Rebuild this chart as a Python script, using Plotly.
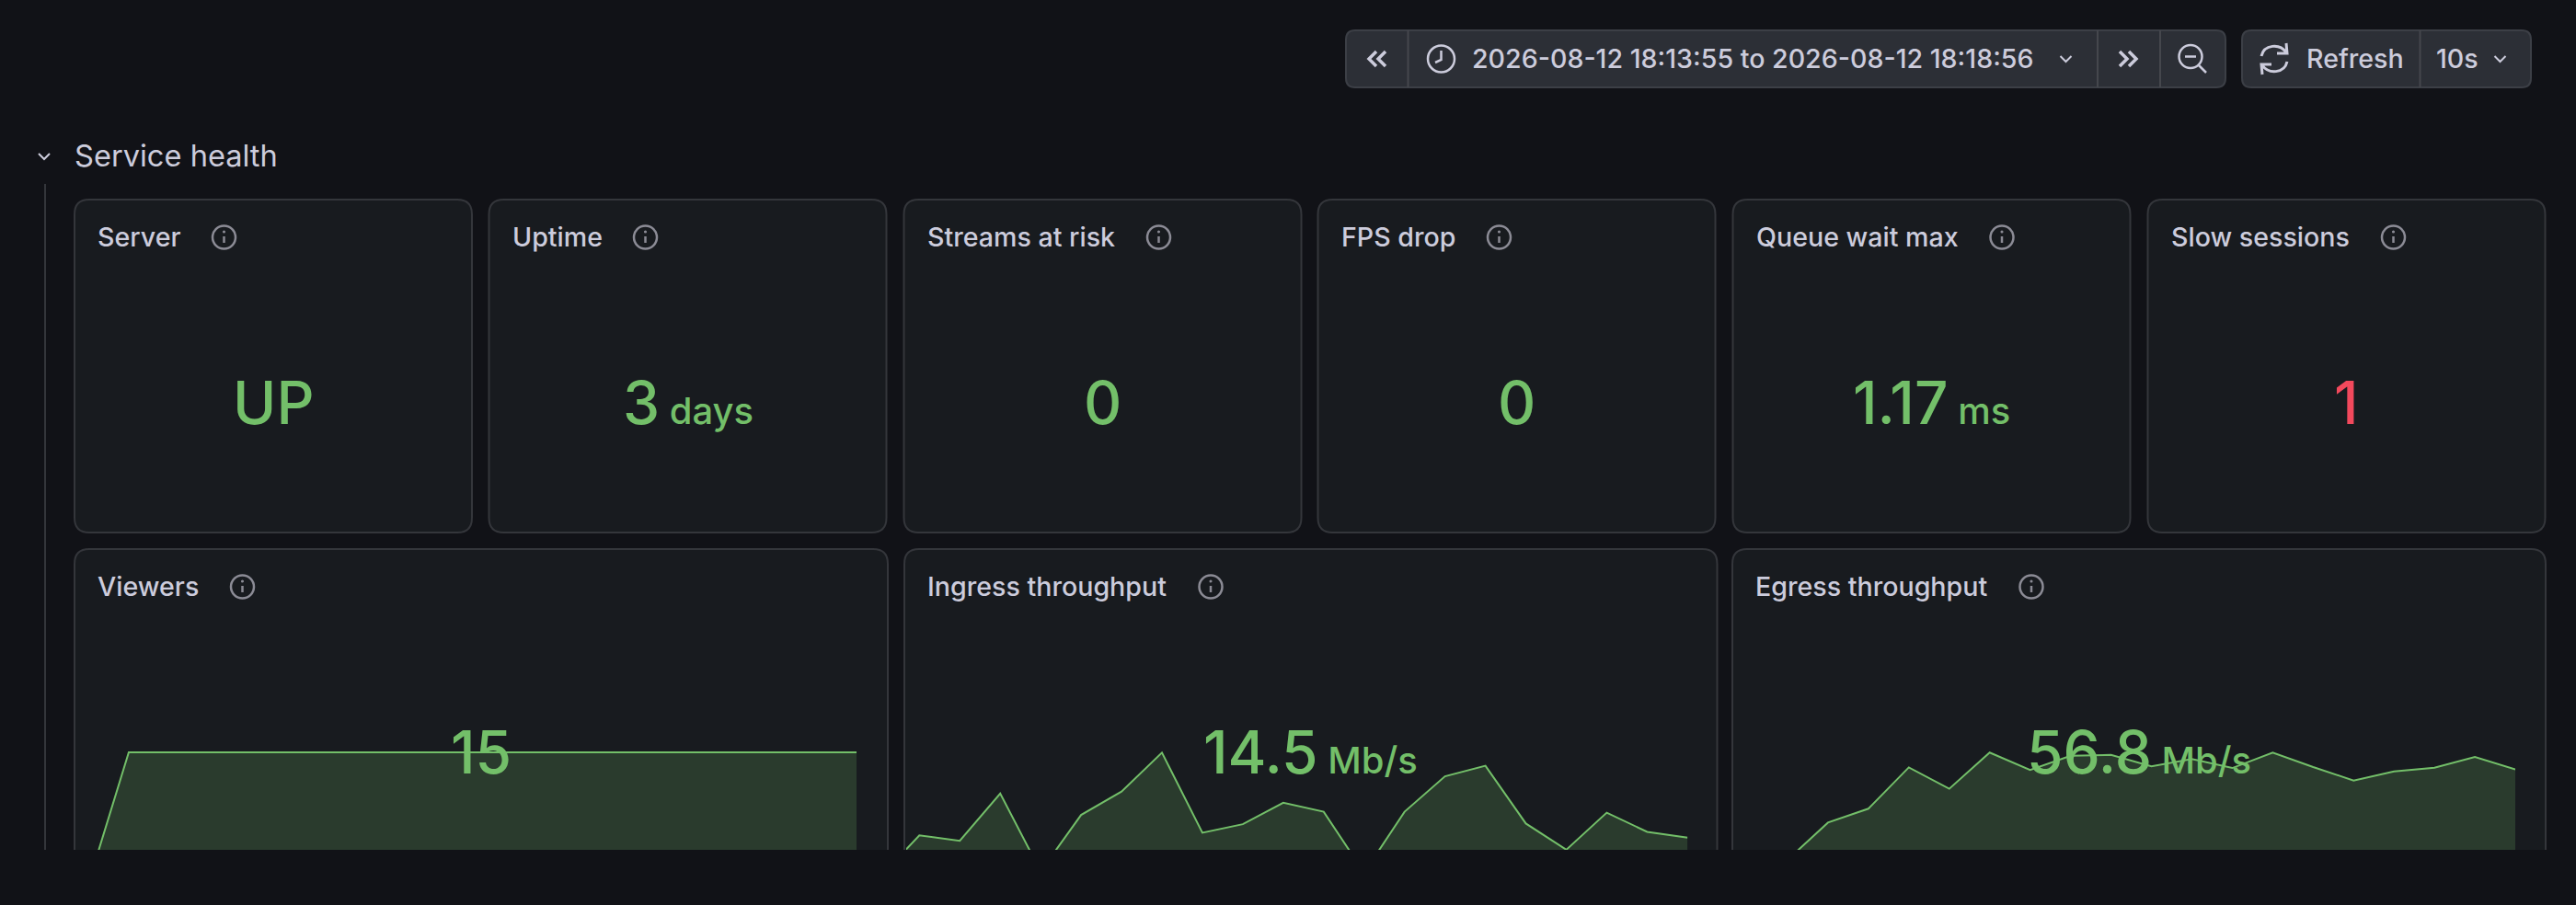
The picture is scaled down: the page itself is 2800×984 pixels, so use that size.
#!/usr/bin/env python
# coding: utf-8

import plotly.graph_objects as go

# Page size
W = 2800
H = 984

BG = "#111217"
PANEL = "#181b1f"
BORDER = "#34363b"
TEXT = "#ccccdc"
GREEN = "#73bf69"
RED = "#f2495c"
GREEN_FILL = "rgba(115,191,105,0.2)"
BTN = "#2c2f36"
BTN_BORDER = "#3c3f46"
ICON = "#8b8b95"

## Data
time_range = "2026-08-12 18:13:55 to 2026-08-12 18:18:56"
refresh_rate = "10s"
section = "Service health"

stat_titles = ["Server", "Uptime", "Streams at risk", "FPS drop", "Queue wait max", "Slow sessions"]
stat_values = ["UP", "3", "0", "0", "1.17", "1"]
stat_units = ["", "days", "", "", "ms", ""]
stat_colors = [GREEN, GREEN, GREEN, GREEN, GREEN, RED]

chart_titles = ["Viewers", "Ingress throughput", "Egress throughput"]
chart_values = ["15", "14.5", "56.8"]
chart_units = ["", "Mb/s", "Mb/s"]

# seconds since the start of the range
seconds = [0, 15, 30, 45, 60, 75, 90, 105, 120, 135, 150, 165, 180, 195, 210, 225, 240, 255, 270, 285]
ingress_seconds = [-15] + seconds

viewers = [0, 15, 15, 15, 15, 15, 15, 15, 15, 15, 15, 15, 15, 15, 15, 15, 15, 15, 15, 15]
ingress = [1.7, 15.2, 13.5, 28.3, 3.9, 21.6, 28.9, 41.1, 16.0, 18.7, 25.4, 22.6, 3.5, 22.6,
           33.7, 37.0, 18.9, 10.7, 22.3, 16.3, 14.5]
egress = [0, 11.9, 30.4, 37.3, 57.8, 47.2, 65.2, 56.5, 63.6, 64.0, 58.3, 62.0, 57.5, 65.2,
          58.0, 51.3, 55.8, 57.7, 63.0, 56.8]

## Layout positions, in page pixels
stat_left = [81, 531.5, 982.5, 1432.5, 1883.5, 2334.5]
stat_w = 432
stat_top = 217
stat_bottom = 579
stat_icon_x = [243.5, 701.5, 1259.5, 1629.5, 2176, 2601.5]

chart_left = [81, 983, 1883]
chart_right = [965, 1866.5, 2767]
chart_first_x = [96, 999.3, 1899]
chart_top = 597
chart_icon_x = [263.5, 1316, 2208]
clip_y = 924
# pixels per unit on each sparkline, with zero at y=961
chart_scale = [9.53, 3.47, 2.19]
zero_y = 961
plot_top = 700
step_px = 43.95

fig = go.Figure()
shapes = []
annotations = []


def rounded(x0, y0, x1, y1, r):
    return (f"M{x0+r},{y0} L{x1-r},{y0} Q{x1},{y0} {x1},{y0+r} L{x1},{y1-r} Q{x1},{y1} {x1-r},{y1} "
            f"L{x0+r},{y1} Q{x0},{y1} {x0},{y1-r} L{x0},{y0+r} Q{x0},{y0} {x0+r},{y0} Z")


def add_path(d, color=None, width=2, fill=None, layer="below"):
    shapes.append(dict(type="path", path=d, xref="x", yref="y", layer=layer,
                       line=dict(color=color or "rgba(0,0,0,0)", width=width),
                       fillcolor=fill or "rgba(0,0,0,0)"))


def add_circle(cx, cy, r, color, width=2.5, fill=None):
    shapes.append(dict(type="circle", xref="x", yref="y", layer="below", x0=cx-r, x1=cx+r, y0=cy-r, y1=cy+r,
                       line=dict(color=color, width=width), fillcolor=fill or "rgba(0,0,0,0)"))


def add_text(x, y, text, size=28.6, color=TEXT, anchor="left", weight=400):
    # y is the text baseline; the annotation box is placed from its bottom
    annotations.append(dict(x=x, y=y + size * 0.36, xref="x", yref="y", text=text, showarrow=False,
                            xanchor=anchor, yanchor="bottom", align=anchor, borderpad=0,
                            font=dict(family="Inter", size=size, color=color, weight=weight)))


def info_icon(cx, cy):
    add_circle(cx, cy, 12.5, ICON)
    add_path(f"M{cx},{cy-1} L{cx},{cy+6}", ICON, 2.5)
    add_circle(cx, cy-6, 0.8, ICON, 1.5, ICON)


def chevron_down(cx, cy, color=TEXT):
    add_path(f"M{cx-6},{cy-3} L{cx},{cy+3} L{cx+6},{cy-3}", color, 2)


def value_text(cx, baseline, value, unit, color):
    text = value
    if unit:
        text += f'<span style="font-size:40px"> {unit}</span>'
    add_text(cx, baseline, text, 64, color, "center", 500)


## Toolbar
add_path(rounded(1463, 33, 2419, 95, 10), BTN_BORDER, 2, BTN)
add_path(rounded(2437, 33, 2751, 95, 10), BTN_BORDER, 2, BTN)
for x in [1530.5, 2280, 2348, 2630.5]:
    add_path(f"M{x},33 L{x},95", "#45474d", 2)

add_path("M1496,56 L1488,64 L1496,72 M1506,56 L1498,64 L1506,72", TEXT, 3.5)
add_path("M2304,56 L2312,64 L2304,72 M2314,56 L2322,64 L2314,72", TEXT, 3.5)
add_circle(1566.5, 64, 14.5, TEXT, 2.5)
add_path("M1566.5,55 L1566.5,65 L1560,68", TEXT, 2.5)
add_text(1598.5, 72, time_range, 28.6, TEXT, weight=500)
chevron_down(2245.5, 64)
add_circle(2381, 61.5, 12.5, TEXT, 2.5)
add_path("M2375,61.5 L2387,61.5", TEXT, 2.5)
add_path("M2390,71 L2398,79", TEXT, 2.5)
# refresh arrows
add_path("M2485,57 C2478,47 2461,48 2458,61 M2485,47 L2486,58 L2475,58", TEXT, 3)
add_path("M2459,71 C2466,81 2483,80 2486,67 M2459,81 L2458,70 L2469,70", TEXT, 3)
add_text(2505.5, 72, "Refresh", 28.6, TEXT, weight=500)
add_text(2646.5, 72, refresh_rate, 28.6, TEXT, weight=500)
chevron_down(2717.5, 64)

## Section header
chevron_down(48, 170)
add_text(79.5, 178.5, section, 32.6, TEXT, weight=400)
add_path(f"M49,200 L49,{clip_y}", BORDER, 2)

## Stat panels
for i, left in enumerate(stat_left):
    add_path(rounded(left, stat_top, left + stat_w, stat_bottom, 16), BORDER, 2, PANEL)
    add_text(left + 24, 265.5, stat_titles[i], 28.6, TEXT, weight=500)
    info_icon(stat_icon_x[i], 258)
    value_text(left + stat_w / 2, 454, stat_values[i], stat_units[i], stat_colors[i])

## Sparkline panels
series = [(seconds, viewers), (ingress_seconds, ingress), (seconds, egress)]
for i, left in enumerate(chart_left):
    right = chart_right[i]
    first = chart_first_x[i]
    add_path(rounded(left, chart_top, right, 990, 16), BORDER, 2, PANEL)
    add_text(left + 24, 645.5, chart_titles[i], 28.6, TEXT, weight=500)
    info_icon(chart_icon_x[i], 638)
    value_text((left + right) / 2, 834, chart_values[i], chart_units[i], GREEN)

    # the sparkline starts 16px inside the panel, the earlier points get clipped
    n = str(i + 2)
    per_sec = step_px / 15
    plot_left = left + 2
    plot_right = first + 19 * step_px
    fig.add_trace(go.Scatter(x=series[i][0], y=series[i][1], mode="lines", fill="tozeroy",
                             fillcolor=GREEN_FILL, line=dict(color=GREEN, width=2),
                             hoverinfo="skip", xaxis="x" + n, yaxis="y" + n, showlegend=False))
    fig.update_layout({
        "xaxis" + n: dict(domain=[plot_left / W, plot_right / W], visible=False, anchor="y" + n,
                          range=[-(first - plot_left) / per_sec, 19 * step_px / per_sec]),
        "yaxis" + n: dict(domain=[1 - clip_y / H, 1 - plot_top / H], visible=False, anchor="x" + n,
                          range=[(zero_y - clip_y) / chart_scale[i], (zero_y - plot_top) / chart_scale[i]]),
    })

# everything below this line is cut off in the page
shapes.append(dict(type="rect", xref="x", yref="y", x0=0, x1=W, y0=clip_y, y1=H, layer="above",
                   line=dict(width=0), fillcolor=BG))

fig.update_layout(
    width=W, height=H, autosize=False,
    margin=dict(l=0, r=0, t=0, b=0, pad=0),
    paper_bgcolor=BG, plot_bgcolor="rgba(0,0,0,0)",
    showlegend=False,
    xaxis=dict(domain=[0, 1], range=[0, W], visible=False, fixedrange=True),
    yaxis=dict(domain=[0, 1], range=[H, 0], visible=False, fixedrange=True),
    shapes=shapes, annotations=annotations,
)

fig.write_html("out.html", config={"displayModeBar": False},
               post_script="document.body.style.margin='0';document.body.style.background='%s';" % BG)
